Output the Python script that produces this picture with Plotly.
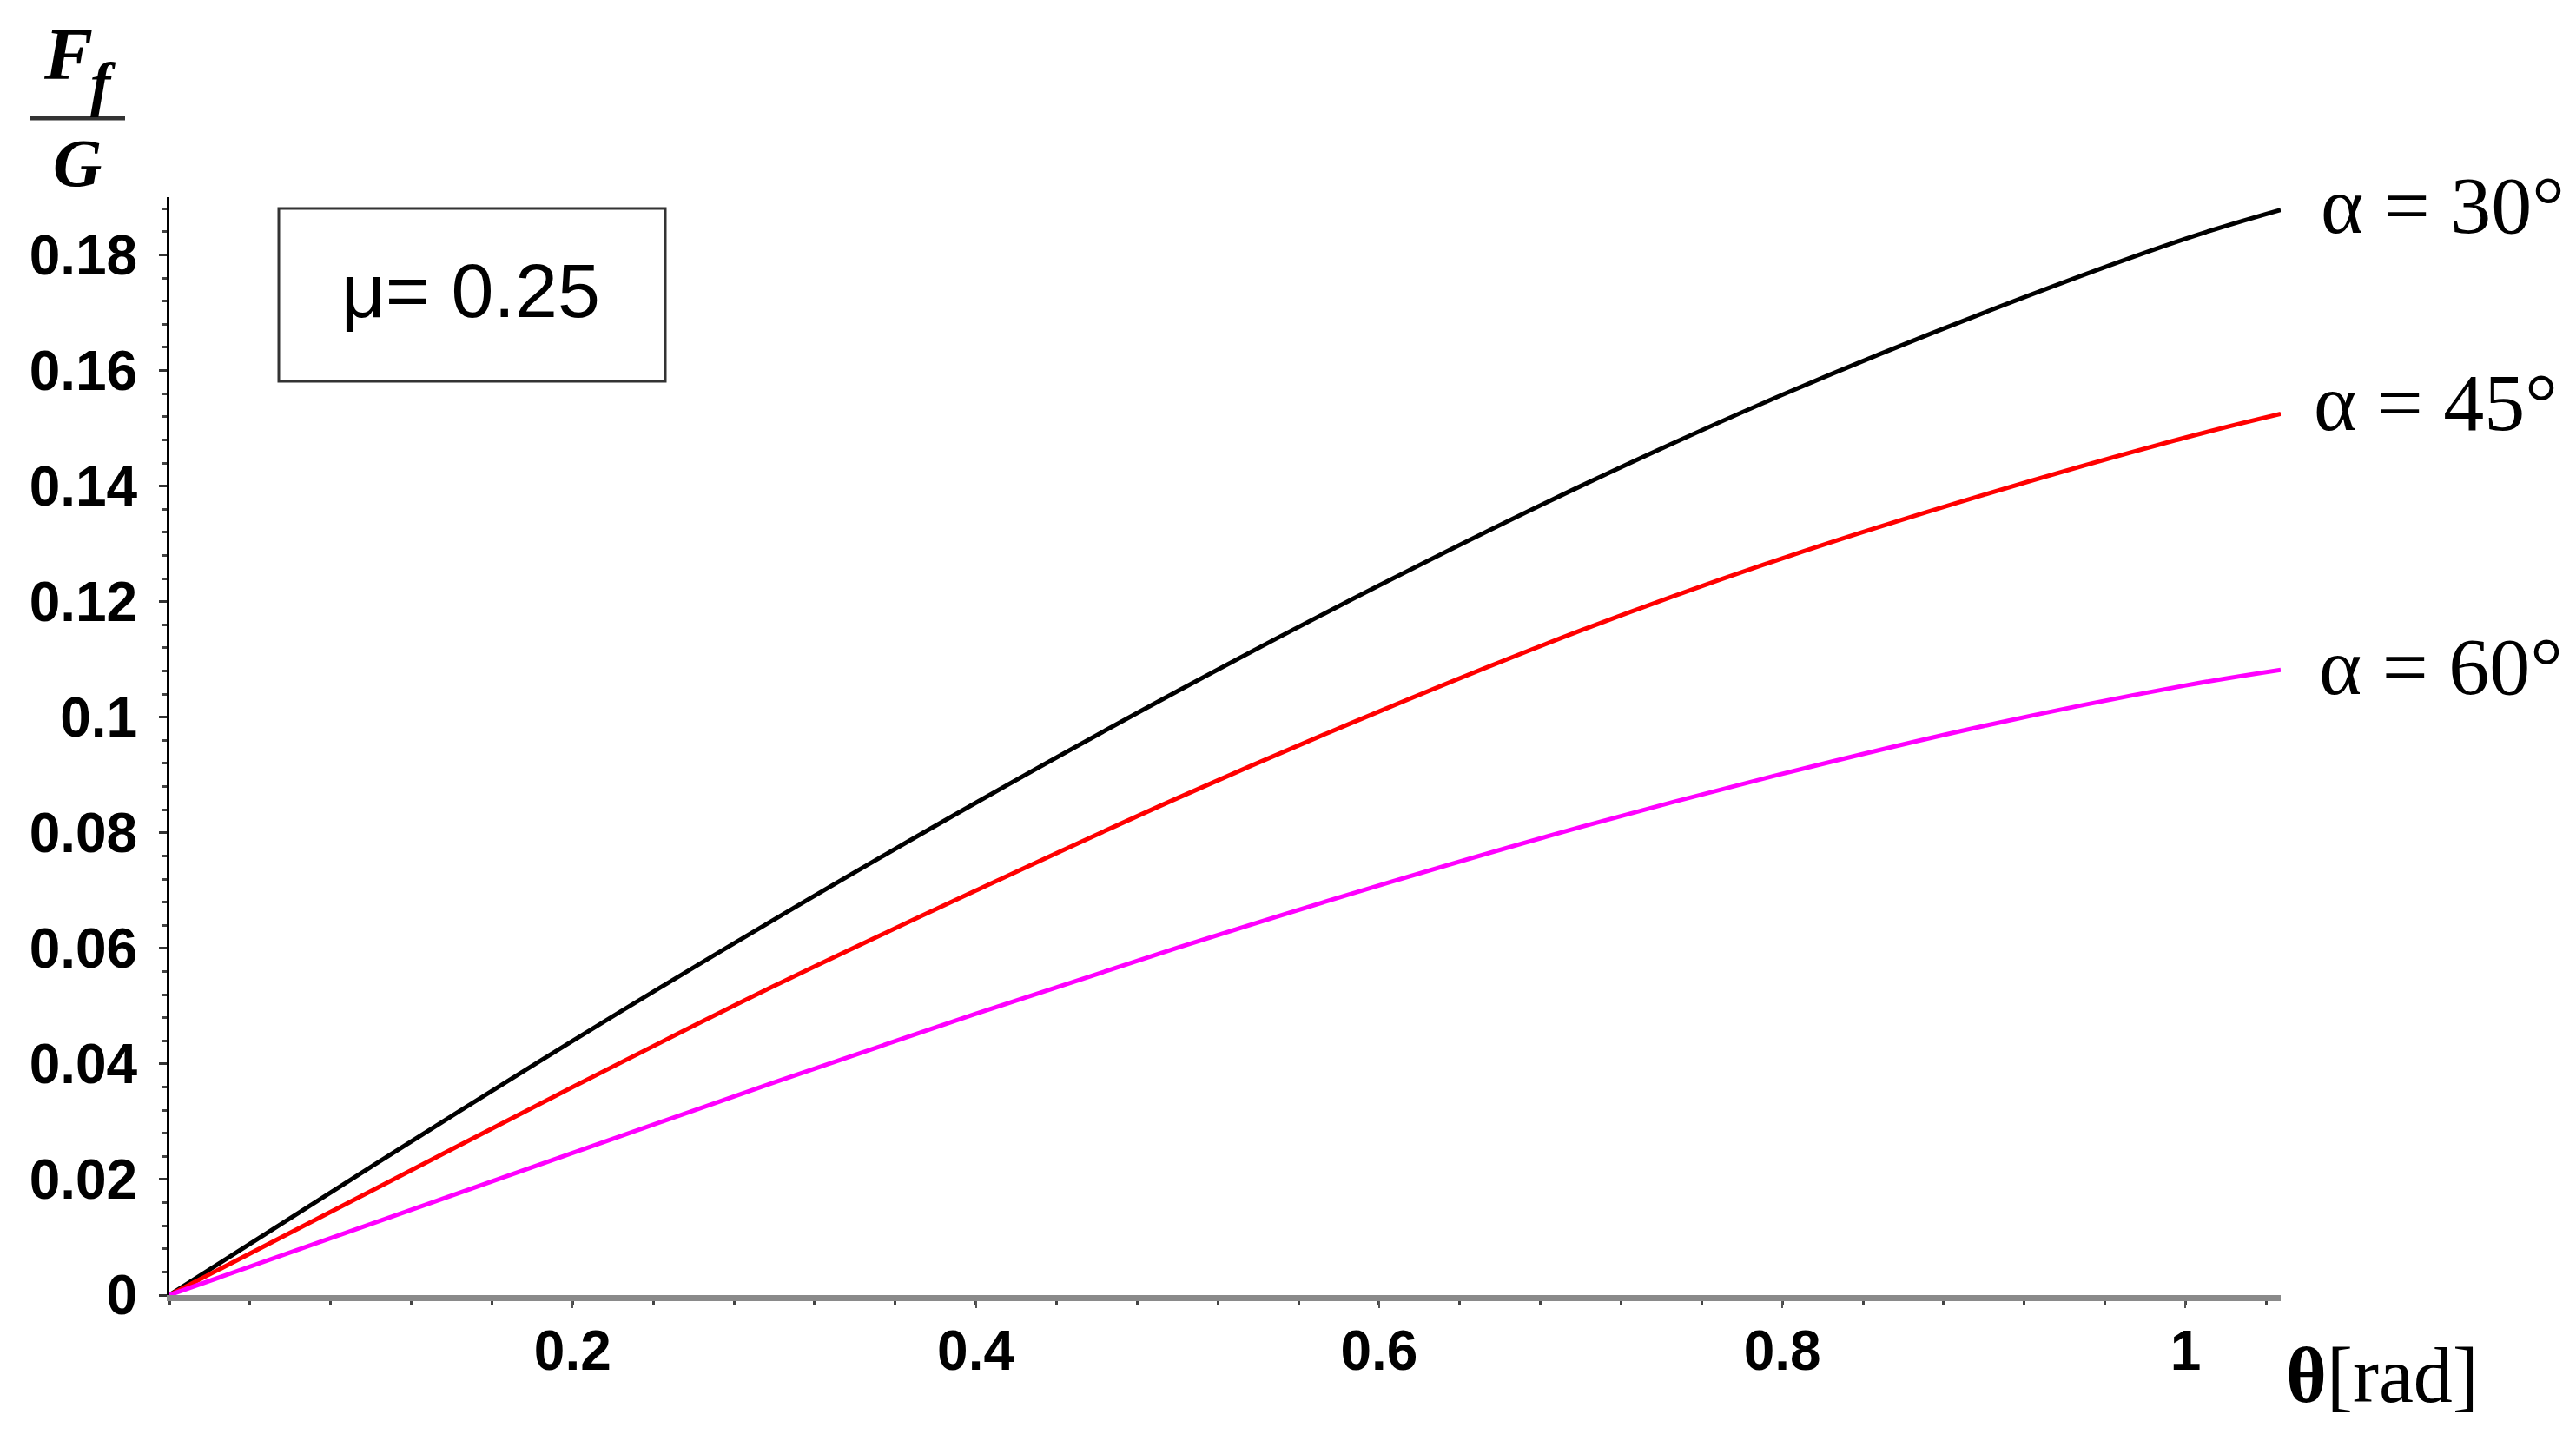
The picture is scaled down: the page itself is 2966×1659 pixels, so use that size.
import plotly.graph_objects as go

# ---- data ----
theta = [0.0, 0.1, 0.2, 0.3, 0.4, 0.5, 0.6, 0.7, 0.8, 0.9, 1.0, 1.0472]
ff_30 = [0.0, 0.0222, 0.0440, 0.0650, 0.0852, 0.1045, 0.1228, 0.1400, 0.1558, 0.1700, 0.1828, 0.1878]
ff_45 = [0.0, 0.0180, 0.0360, 0.0535, 0.0700, 0.0860, 0.1010, 0.1150, 0.1275, 0.1385, 0.1484, 0.1525]
ff_60 = [0.0, 0.0123, 0.0246, 0.0368, 0.0487, 0.0601, 0.0709, 0.0810, 0.0902, 0.0985, 0.1055, 0.1082]
series_names = ["α = 30°", "α = 45°", "α = 60°"]
series_colors = ["#000000", "#ff0000", "#ff00ff"]

x_tickvals = [0.2, 0.4, 0.6, 0.8, 1.0]
x_ticktext = ["0.2", "0.4", "0.6", "0.8", "1"]
y_tickvals = [0, 0.02, 0.04, 0.06, 0.08, 0.1, 0.12, 0.14, 0.16, 0.18]
y_ticktext = ["0", "0.02", "0.04", "0.06", "0.08", "0.1", "0.12", "0.14", "0.16", "0.18"]

# page geometry (the html body has an 8px margin)
PAGE_W, PAGE_H = 2966, 1659
OFF = 8
W, H = PAGE_W - 2 * OFF, PAGE_H - 2 * OFF
# plot area in page pixels
PL, PR, PT, PB = 195, 2626, 227, 1491
ML, MT = PL - OFF, PT - OFF
MR, MB = W - (PR - OFF), H - (PB - OFF)
PW, PH = PR - PL, PB - PT


def px(x):
    return (x - PL) / PW


def py(y):
    return (PB - y) / PH


fig = go.Figure()
for ys, name, col in zip([ff_30, ff_45, ff_60], series_names, series_colors):
    fig.add_trace(go.Scatter(x=theta, y=ys, mode="lines", name=name,
                             line=dict(color=col, width=5, shape="spline"),
                             showlegend=False))

tick_font = dict(family="Liberation Sans, Arial", size=64,
                 color="black", weight="bold")

fig.update_layout(
    width=W, height=H, autosize=False,
    margin=dict(l=ML, r=MR, t=MT, b=MB),
    paper_bgcolor="white", plot_bgcolor="white",
    xaxis=dict(range=[0, 1.0472], showgrid=False, zeroline=False,
               showline=True, linecolor="#8a8a8a", linewidth=7,
               ticks="outside", ticklen=8, tickwidth=2, tickcolor="#555",
               tickvals=x_tickvals, ticktext=x_ticktext, tickfont=tick_font,
               ticklabelstandoff=-6,
               minor=dict(dtick=0.04, ticks="outside", ticklen=5, tickwidth=3,
                          tickcolor="#444", showgrid=False)),
    yaxis=dict(range=[0, 0.19], showgrid=False, zeroline=False,
               showline=True, linecolor="black", linewidth=3,
               ticks="outside", ticklen=9, tickwidth=3, tickcolor="#333",
               tickvals=y_tickvals, ticktext=y_ticktext, tickfont=tick_font,
               ticklabelstandoff=12,
               minor=dict(dtick=0.004, ticks="outside", ticklen=6, tickwidth=3,
                          tickcolor="#444", showgrid=False)),
)

serif = "Liberation Serif, Times New Roman, serif"

# series labels
label_pos = [(2670, 236), (2662, 463), (2668, 767)]
for name, (xx, yy) in zip(series_names, label_pos):
    fig.add_annotation(x=px(xx), y=py(yy), xref="paper", yref="paper",
                       text=name, showarrow=False, xanchor="left", yanchor="middle",
                       font=dict(family=serif, size=94, color="black"))

# mu box
fig.add_shape(type="rect", xref="paper", yref="paper",
              x0=px(321), x1=px(766), y0=py(439), y1=py(240),
              line=dict(color="#333", width=3))
fig.add_annotation(x=px(542), y=py(334), xref="paper", yref="paper",
                   text="μ= 0.25", showarrow=False, xanchor="center", yanchor="middle",
                   font=dict(family="Liberation Sans, Arial", size=88, color="black"))

# y-axis label Ff / G
fig.add_annotation(x=px(78), y=py(62), xref="paper", yref="paper",
                   text="<b><i>F</i></b>", showarrow=False,
                   xanchor="center", yanchor="middle",
                   font=dict(family=serif, size=84, color="black"))
fig.add_annotation(x=px(119), y=py(96), xref="paper", yref="paper",
                   text="<b><i>f</i></b>", showarrow=False,
                   xanchor="center", yanchor="middle",
                   font=dict(family=serif, size=70, color="black"))
fig.add_shape(type="line", xref="paper", yref="paper",
              x0=px(34), x1=px(144), y0=py(136), y1=py(136),
              line=dict(color="#333", width=5))
fig.add_annotation(x=px(89), y=py(188), xref="paper", yref="paper",
                   text="<b><i>G</i></b>", showarrow=False,
                   xanchor="center", yanchor="middle",
                   font=dict(family=serif, size=78, color="black"))

# x-axis label
fig.add_annotation(x=px(2743), y=py(1583), xref="paper", yref="paper",
                   text="<b>θ</b>[rad]", showarrow=False,
                   xanchor="center", yanchor="middle",
                   font=dict(family=serif, size=90, color="black"))

fig.write_html("out.html")
